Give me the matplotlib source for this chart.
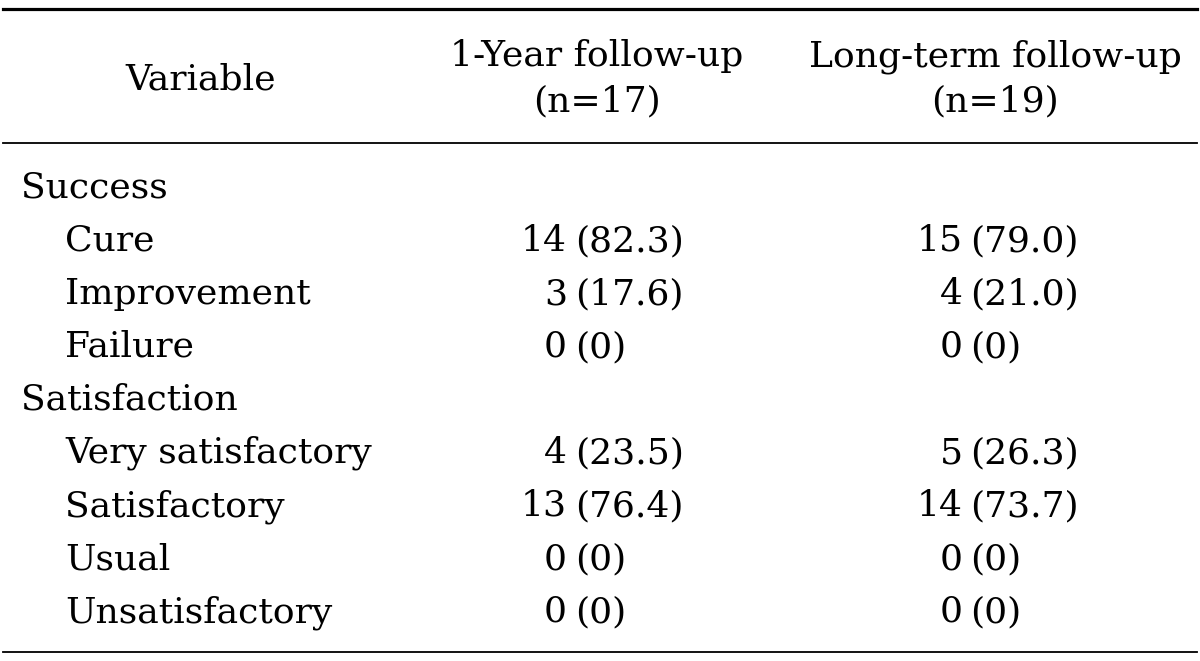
import matplotlib
matplotlib.use("Agg")
from matplotlib import pyplot as plt
from matplotlib.lines import Line2D

# table content
header_var = "Variable"
col_heads = [("1-Year follow-up", "(n=17)"), ("Long-term follow-up", "(n=19)")]
row_labels = ["Success", "Cure", "Improvement", "Failure",
              "Satisfaction", "Very satisfactory", "Satisfactory", "Usual", "Unsatisfactory"]
is_group = [True, False, False, False, True, False, False, False, False]
year1_n = ["", "14", "3", "0", "", "4", "13", "0", "0"]
year1_pct = ["", "(82.3)", "(17.6)", "(0)", "", "(23.5)", "(76.4)", "(0)", "(0)"]
long_n = ["", "15", "4", "0", "", "5", "14", "0", "0"]
long_pct = ["", "(79.0)", "(21.0)", "(0)", "", "(26.3)", "(73.7)", "(0)", "(0)"]

W, H = 1200, 661
fig = plt.figure(figsize=(12, 6.61), dpi=100)
plt.rcParams['font.family'] = ['DejaVu Serif']
fs = 26


def px(x, y):
    return x / W, 1 - y / H


def hline(y, lw):
    x0, y0 = px(3, y)
    x1, _ = px(1197, y)
    fig.add_artist(Line2D([x0, x1], [y0, y0], color="black", lw=lw,
                          transform=fig.transFigure))


hline(9, 2.3)
hline(143, 1.3)
hline(652, 1.3)

fig.text(*px(201, 90), header_var, ha="center", va="baseline", fontsize=fs)
for cx, (l1, l2) in zip([597, 995], col_heads):
    fig.text(*px(cx, 66), l1, ha="center", va="baseline", fontsize=fs)
    fig.text(*px(cx, 111), l2, ha="center", va="baseline", fontsize=fs)

y = 198
step = 53.0
for i, lab in enumerate(row_labels):
    xl = 21 if is_group[i] else 65
    fig.text(*px(xl, y), lab, ha="left", va="baseline", fontsize=fs)
    if year1_n[i]:
        fig.text(*px(567, y), year1_n[i], ha="right", va="baseline", fontsize=fs)
        fig.text(*px(575, y), year1_pct[i], ha="left", va="baseline", fontsize=fs)
        fig.text(*px(963, y), long_n[i], ha="right", va="baseline", fontsize=fs)
        fig.text(*px(970, y), long_pct[i], ha="left", va="baseline", fontsize=fs)
    y += step

fig.savefig("out.png", dpi=100, facecolor="white")
